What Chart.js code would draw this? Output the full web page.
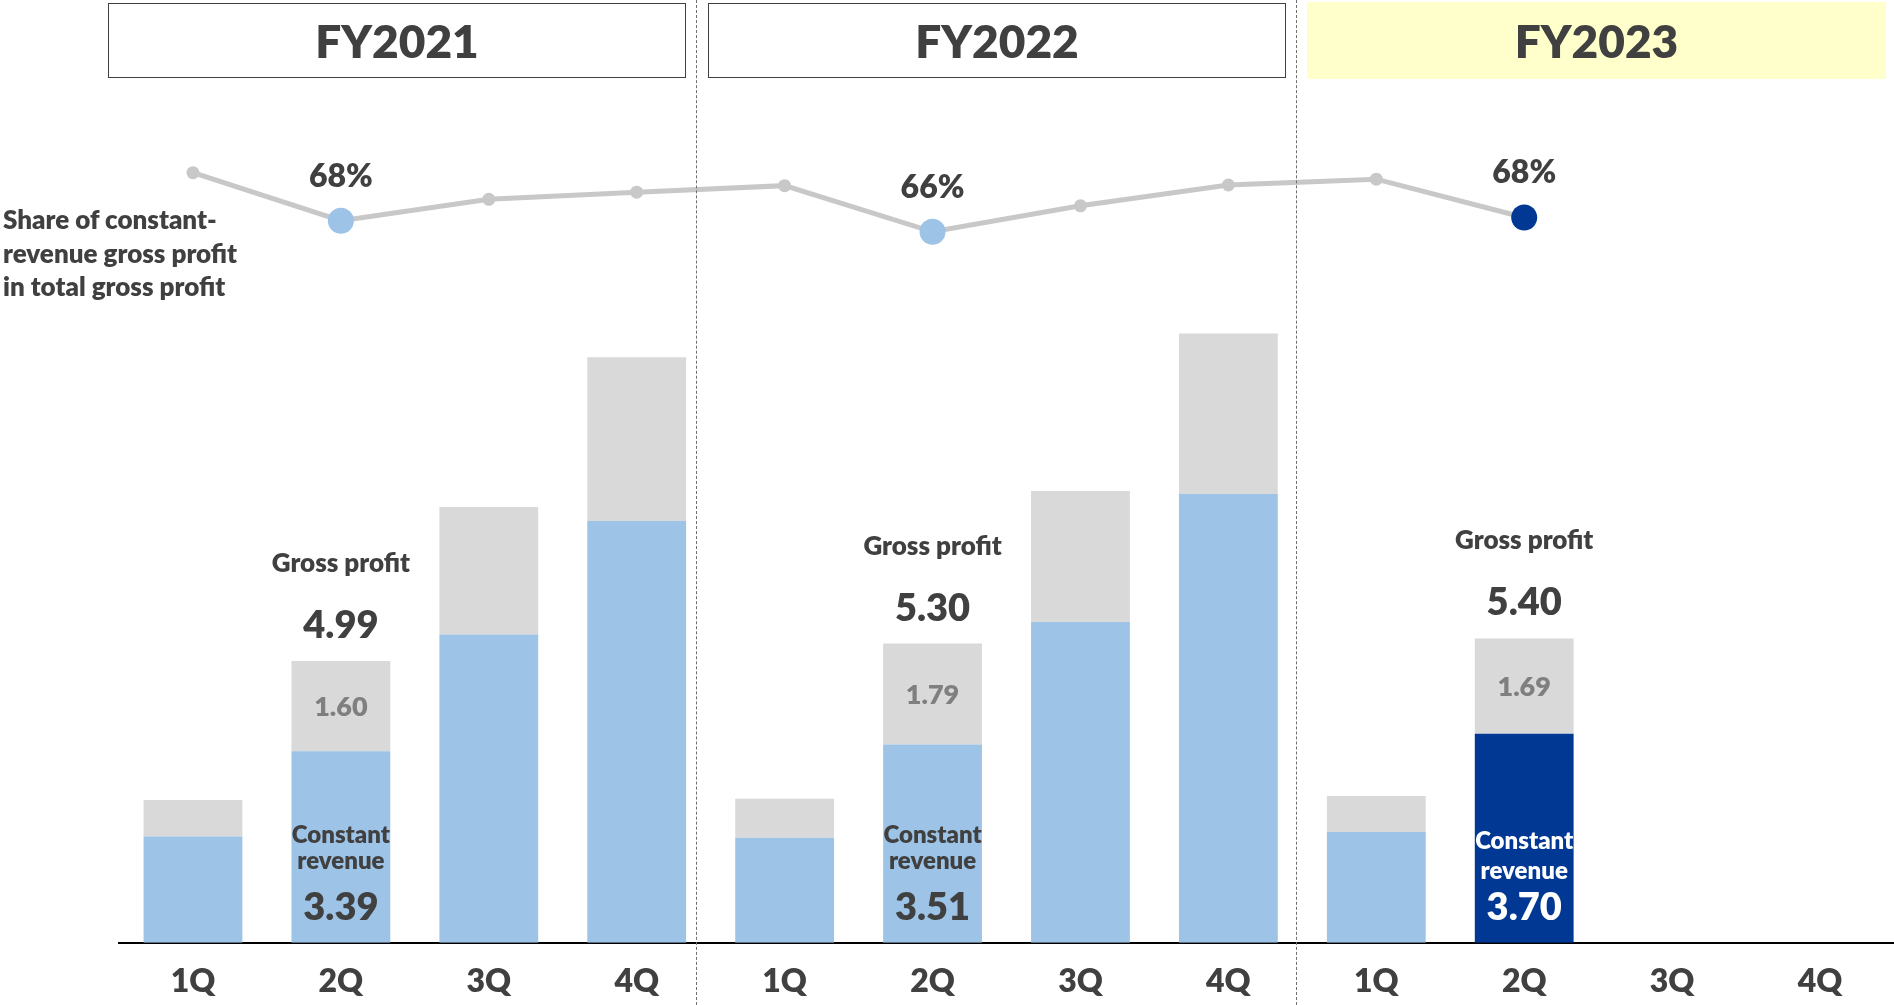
<!DOCTYPE html>
<html>
<head>
<meta charset="utf-8">
<script src="https://cdn.jsdelivr.net/npm/chart.js@4.4.0/dist/chart.umd.min.js"></script>
<style>
  body { margin: 0; background: #fff; font-family: Lato, "Noto Sans", sans-serif; color: #404040; }
  #wrap { position: relative; width: 1894px; height: 1005px; overflow: hidden; }
  #chart { position: absolute; left: 0; top: 0; }
  .year {
    position: absolute; top: 3px; height: 75px; box-sizing: border-box;
    display: flex; align-items: center; justify-content: center;
    font-weight: 800; font-size: 46px; color: #404040;
  }
  .boxed { border: 1.5px solid #404040; }
  .current { background: #ffffcc; top: 2px; height: 77px; }
  .divider {
    position: absolute; top: 0; width: 0; height: 1005px;
    border-left: 1.5px dashed #6f6f6f;
  }
  #shareNote {
    position: absolute; left: 3px; top: 203px;
    font-weight: 800; font-size: 26px; line-height: 33.5px; color: #404040;
  }
</style>
</head>
<body>
<div id="wrap">
  <canvas id="chart" width="1894" height="1005"></canvas>
  <div class="year boxed" style="left:108px; width:578px;">FY2021</div>
  <div class="year boxed" style="left:708px; width:578px;">FY2022</div>
  <div class="year current" style="left:1307px; width:579px;">FY2023</div>
  <div class="divider" style="left:696px;"></div>
  <div class="divider" style="left:1296px;"></div>
  <div id="shareNote">Share of constant-<br>revenue gross profit<br>in total gross profit</div>
</div>
<script>
// quarters across FY2021-FY2023 (100 million yen)
var quarters = ['1Q', '2Q', '3Q', '4Q', '1Q', '2Q', '3Q', '4Q', '1Q', '2Q', '3Q', '4Q'];
var constantRevenue = [1.88, 3.39, 5.46, 7.47, 1.86, 3.51, 5.68, 7.95, 1.96, 3.70, null, null];
var otherProfit     = [0.65, 1.60, 2.26, 2.90, 0.69, 1.79, 2.32, 2.84, 0.64, 1.69, null, null];
var grossProfit     = [2.53, 4.99, 7.72, 10.37, 2.55, 5.30, 8.00, 10.79, 2.60, 5.40, null, null];
// share of constant-revenue gross profit (%)
var shareOfConstant = [75.3, 67.9, 71.2, 72.3, 73.3, 66.2, 70.2, 73.4, 74.3, 68.4, null, null];

var calloutIdx = [1, 5, 9];
var currentIdx = 9;

var lightBlue = '#9dc3e6';
var darkBlue = '#003893';
var grey = '#d9d9d9';
var textColor = '#404040';
var fontWeight = 800;

var barColors = quarters.map(function (q, i) { return i === currentIdx ? darkBlue : lightBlue; });
var pointColors = quarters.map(function (q, i) {
  if (i === currentIdx) return darkBlue;
  return calloutIdx.indexOf(i) >= 0 ? lightBlue : '#c8c8c8';
});
var pointSizes = quarters.map(function (q, i) { return calloutIdx.indexOf(i) >= 0 ? 13 : 6.5; });

function text(ctx, str, x, y, size, color) {
  ctx.font = fontWeight + ' ' + size + 'px Lato, "Noto Sans", sans-serif';
  ctx.fillStyle = color;
  ctx.fillText(str, x, y);
}

var callouts = {
  id: 'callouts',
  afterDatasetsDraw: function (chart) {
    var ctx = chart.ctx;
    var base = chart.scales.y.getPixelForValue(0);
    var lineMeta = chart.getDatasetMeta(0);
    var blueMeta = chart.getDatasetMeta(1);
    var greyMeta = chart.getDatasetMeta(2);
    ctx.save();
    ctx.textAlign = 'center';
    ctx.textBaseline = 'alphabetic';
    calloutIdx.forEach(function (i) {
      var bar = greyMeta.data[i];
      var x = bar.x;
      var top = bar.y;
      var greyMid = (bar.y + bar.base) / 2;
      var current = i === currentIdx;

      text(ctx, 'Gross profit', x, top - 89, 26, textColor);
      text(ctx, grossProfit[i].toFixed(2), x, top - 23, 38, textColor);
      text(ctx, otherProfit[i].toFixed(2), x, greyMid + 9.5, 27, '#7f7f7f');

      var inside = current ? '#ffffff' : textColor;
      text(ctx, 'Constant', blueMeta.data[i].x, base - (current ? 94 : 100), 24, inside);
      text(ctx, 'revenue', blueMeta.data[i].x, base - (current ? 64 : 74), 24, inside);
      text(ctx, constantRevenue[i].toFixed(2), blueMeta.data[i].x, base - 23, 38, inside);

      var pt = lineMeta.data[i];
      text(ctx, Math.round(shareOfConstant[i]) + '%', pt.x, pt.y - 34, 32, textColor);
    });
    ctx.restore();
  }
};

var ctx = document.getElementById('chart').getContext('2d');
var myChart = new Chart(ctx, {
  type: 'bar',
  data: {
    labels: quarters,
    datasets: [{
      type: 'line',
      label: 'Share of constant revenue',
      data: shareOfConstant,
      yAxisID: 'y2',
      borderColor: '#c8c8c8',
      borderWidth: 5,
      pointRadius: pointSizes,
      pointBackgroundColor: pointColors,
      pointBorderWidth: 0,
      order: 0
    }, {
      label: 'Constant revenue',
      data: constantRevenue,
      backgroundColor: barColors,
      stack: 'gp',
      order: 1
    }, {
      label: 'Other',
      data: otherProfit,
      backgroundColor: grey,
      stack: 'gp',
      order: 1
    }]
  },
  options: {
    responsive: false,
    devicePixelRatio: 1,
    animation: false,
    layout: { autoPadding: false, padding: { left: 119, right: 0, top: 0, bottom: 0 } },
    datasets: { bar: { barPercentage: 0.668, categoryPercentage: 1 } },
    scales: {
      x: {
        stacked: true,
        grid: { display: false, drawTicks: false },
        border: { display: true, color: '#000000', width: 2 },
        ticks: {
          color: textColor,
          padding: 20,
          font: { family: 'Lato', size: 32, weight: fontWeight }
        },
        afterFit: function (scale) { scale.height = 62.3; }
      },
      y: { stacked: true, display: false, min: 0, max: 16.7 },
      y2: { display: false, min: -43.17, max: 101.86 }
    },
    plugins: {
      legend: { display: false },
      tooltip: { enabled: false }
    }
  },
  plugins: [callouts]
});
</script>
</body>
</html>
